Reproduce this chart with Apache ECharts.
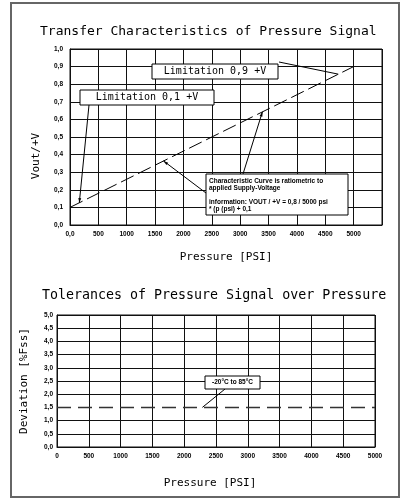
<!DOCTYPE html>
<html>
<head>
<meta charset="utf-8">
<script src="https://cdn.jsdelivr.net/npm/echarts@6/dist/echarts.min.js"></script>
<style>
html,body{margin:0;padding:0;background:#fff;}
#c{width:404px;height:500px;}
</style>
</head>
<body>
<div id="c"></div>
<script>
// ---- data ----
var titleTop = 'Transfer Characteristics of Pressure Signal';
var titleBottom = 'Tolerances of Pressure Signal over Pressure';
var pressureTop = [0, 5000];
var voutTop = [0.1, 0.9];
var pressureBottom = [0, 5000];
var deviationBottom = [1.5, 1.5];
var topXTicks = [0, 500, 1000, 1500, 2000, 2500, 3000, 3500, 4000, 4500, 5000];
var topYTicks = [0, 0.1, 0.2, 0.3, 0.4, 0.5, 0.6, 0.7, 0.8, 0.9, 1.0];
var bottomYTicks = [0, 0.5, 1, 1.5, 2, 2.5, 3, 3.5, 4, 4.5, 5];
var infoLines = ['Characteristic Curve is ratiometric to', 'applied Supply-Voltage', '', 'information: VOUT / +V = 0,8 / 5000 psi', '* (p (psi) + 0,1'];
var label09 = 'Limitation 0,9 +V';
var label01 = 'Limitation 0,1 +V';
var labelTemp = '-20°C to 85°C';
// anchor points on curves (data coordinates)
var anchor09 = [4730, 0.857];
var anchor01 = [164, 0.126];
var anchorInfoA = [3392, 0.643];
var anchorInfoB = [1648, 0.364];
var anchorTemp = [2286, 1.5];

function comma(v, d){ return v.toFixed(d).replace('.', ','); }

var chart = echarts.init(document.getElementById('c'), null, {renderer:'canvas'});
var mono = 'DejaVu Sans Mono';
var tickFont = {fontFamily:'Liberation Sans', fontWeight:'bold', fontSize:6.5, color:'#000'};
var gridLine = {show:true, lineStyle:{color:'#111', width:1}};
// bottom chart: no grid line under the dashed 1,5 line
var bottomSplitColors = bottomYTicks.map(function(v){ return v === deviationBottom[0] ? 'rgba(0,0,0,0)' : '#111'; });

var option = {
  animation:false,
  backgroundColor:'#fff',
  title:[
    {text:titleTop, left:35, top:20, textStyle:{fontFamily:mono, fontWeight:'normal', fontSize:13, color:'#000'}},
    {text:titleBottom, left:37, top:284, textStyle:{fontFamily:mono, fontWeight:'normal', fontSize:13.3, color:'#000'}}
  ],
  grid:[
    {left:70, top:49, width:312, height:176, show:true, borderColor:'#111', borderWidth:1},
    {left:57, top:315, width:318, height:132, show:true, borderColor:'#111', borderWidth:1}
  ],
  xAxis:[
    {gridIndex:0, type:'value', min:0, max:5500, interval:500,
     name:'Pressure [PSI]', nameLocation:'middle', nameGap:27,
     nameTextStyle:{fontFamily:mono, fontSize:11, color:'#000'},
     axisLine:{lineStyle:{color:'#111'}}, axisTick:{show:false},
     axisLabel:Object.assign({margin:6, formatter:function(v){ if(topXTicks.indexOf(v)<0) return ''; return v===0?'0,0':String(v);}}, tickFont),
     splitLine:gridLine},
    {gridIndex:1, type:'value', min:0, max:5000, interval:500,
     name:'Pressure [PSI]', nameLocation:'middle', nameGap:31,
     nameTextStyle:{fontFamily:mono, fontSize:11, color:'#000', padding:[0,12,0,0]},
     axisLine:{lineStyle:{color:'#111'}}, axisTick:{show:false},
     axisLabel:Object.assign({margin:6, formatter:function(v){return String(v);}}, tickFont),
     splitLine:gridLine}
  ],
  yAxis:[
    {gridIndex:0, type:'value', min:0, max:1, interval:0.1,
     name:'Vout/+V', nameLocation:'middle', nameGap:28, nameRotate:90,
     nameTextStyle:{fontFamily:mono, fontSize:11, color:'#000', padding:[0,38,0,0]},
     axisLine:{show:true, lineStyle:{color:'#111'}}, axisTick:{show:false},
     axisLabel:Object.assign({margin:7, formatter:function(v){return comma(v,1);}}, tickFont),
     splitLine:gridLine},
    {gridIndex:1, type:'value', min:0, max:5, interval:0.5,
     name:'Deviation [%Fss]', nameLocation:'middle', nameGap:27, nameRotate:90,
     nameTextStyle:{fontFamily:mono, fontSize:11, color:'#000'},
     axisLine:{show:true, lineStyle:{color:'#111'}}, axisTick:{show:false},
     axisLabel:Object.assign({margin:4, formatter:function(v){return comma(v,1);}}, tickFont),
     splitLine:{show:true, lineStyle:{color:bottomSplitColors, width:1}}}
  ],
  series:[
    {type:'line', xAxisIndex:0, yAxisIndex:0, symbol:'none', silent:true,
     data:pressureTop.map(function(p,i){return [p, voutTop[i]];}),
     lineStyle:{color:'#000', width:1, type:[14,5]}},
    {type:'line', xAxisIndex:1, yAxisIndex:1, symbol:'none', silent:true, z:5,
     data:pressureBottom.map(function(p,i){return [p, deviationBottom[i]];}),
     lineStyle:{color:'#333', width:1.5, type:[14,7]}}
  ]
};
chart.setOption(option);

function px(g, pt){ return chart.convertToPixel({gridIndex:g}, pt); }
var a09 = px(0, anchor09), a01 = px(0, anchor01), aA = px(0, anchorInfoA), aB = px(0, anchorInfoB), aT = px(1, anchorTemp);

function box(x, y, w, h){ return {type:'rect', shape:{x:x, y:y, width:w, height:h}, style:{fill:'#fff', stroke:'#000', lineWidth:1}, z:10}; }
function line(x1,y1,x2,y2){ return {type:'line', shape:{x1:x1,y1:y1,x2:x2,y2:y2}, style:{stroke:'#000', lineWidth:1}, z:9}; }
function arrow(x1,y1,x2,y2){
  var ang = Math.atan2(y2-y1, x2-x1), L = 5, W = 0.3;
  return {type:'polygon', shape:{points:[[x2,y2],[x2-L*Math.cos(ang-W), y2-L*Math.sin(ang-W)],[x2-L*Math.cos(ang+W), y2-L*Math.sin(ang+W)]]}, style:{fill:'#000'}, z:9};
}
function txt(x, y, s, font, align){ return {type:'text', x:x, y:y, style:{text:s, font:font, fill:'#000', textAlign:align||'left', textVerticalAlign:'middle'}, z:11}; }

var infoFont = 'bold 6.5px "Liberation Sans"';
var g = [
  {type:'rect', shape:{x:11, y:3, width:388, height:494}, style:{fill:'none', stroke:'#666', lineWidth:2}, z:0},
  line(279, 62, a09[0], a09[1]),
  box(152, 64, 126, 15),
  txt(215, 71.5, label09, '10px "DejaVu Sans Mono"', 'center'),
  line(89, 105, a01[0], a01[1]),
  arrow(89, 105, a01[0], a01[1]),
  box(80, 90, 134, 15),
  txt(147, 97.5, label01, '10px "DejaVu Sans Mono"', 'center'),
  line(243, 174, aA[0], aA[1]),
  arrow(243, 174, aA[0], aA[1]),
  line(206, 193, aB[0], aB[1]),
  arrow(206, 193, aB[0], aB[1]),
  box(206, 174, 142, 41),
  line(225, 389, aT[0], aT[1]),
  box(205, 376, 55, 13),
  txt(232.5, 382.5, labelTemp, infoFont, 'center')
];
var ly = 181;
infoLines.forEach(function(s){ if(s) g.push(txt(209, ly, s, infoFont)); ly += 7; });
chart.setOption({graphic:g});
</script>
</body>
</html>
